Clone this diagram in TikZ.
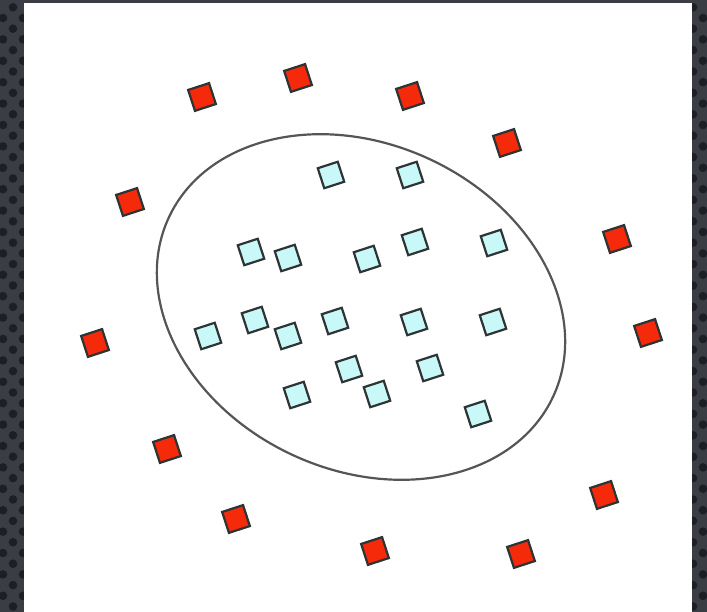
\documentclass[tikz,border=0pt]{standalone}
\usepackage{tikz}
\usetikzlibrary{positioning}
\definecolor{FrameDark}{HTML}{3A3D44}
\definecolor{FrameDot}{HTML}{1D1F25}
\definecolor{OuterRed}{HTML}{F52A0A}
\definecolor{InnerCyan}{HTML}{C8F8F8}
\definecolor{EdgeGray}{HTML}{2E3333}
\definecolor{RingGray}{HTML}{555555}

\begin{document}
\begin{tikzpicture}[
    x=1pt, y=-1pt,
    outer/.style={draw=EdgeGray, fill=OuterRed, line width=2.2pt, rotate=18, minimum size=22pt, inner sep=0pt},
    inner/.style={draw=EdgeGray, fill=InnerCyan, line width=2.2pt, rotate=18, minimum size=21pt, inner sep=0pt},
    ring/.style={draw=RingGray, line width=2.2pt}
  ]
    \useasboundingbox (0,0) rectangle (707,612);
    % textured frame
    \fill[FrameDark] (0,0) rectangle (707,612);
    \foreach \cx [count=\k] in {3,13,23,693,703} {
      \foreach \j in {0,...,29} {
        \fill[FrameDot] (\cx, {7.3 + 10.7*mod(\k,2) + 21.4*\j}) circle (4.3);
      }
    }
    \fill[white] (24,3) rectangle (692,612);

    % boundary
    \coordinate (mid) at (361,307);
    \draw[ring, rotate around={-25:(mid)}] (mid) ellipse [x radius=212, y radius=163];

    % outliers
    \foreach \px/\py [count=\i] in {202/97, 298/78, 410/96, 507/143, 130/202, 617/239,
        95/343, 648/333, 167/449, 236/519, 604/495, 375/551, 521/554} {
      \node[outer] (r\i) at (\px,\py) {};
    }

    % inliers
    \foreach \px/\py [count=\i] in {331/175, 410/175, 251/252, 288/258, 367/259, 415/242,
        494/243, 208/336, 255/320, 288/336, 335/321, 414/322, 493/322, 349/369,
        430/368, 297/395, 377/394, 478/414} {
      \node[inner] (c\i) at (\px,\py) {};
    }
  \end{tikzpicture}
\end{document}
